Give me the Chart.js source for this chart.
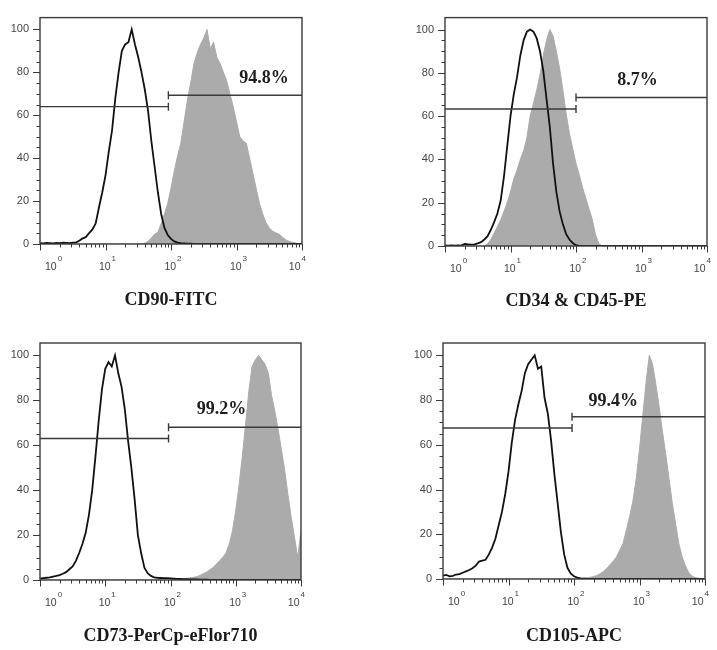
<!DOCTYPE html>
<html>
<head>
<meta charset="utf-8">
<title>Flow cytometry histograms</title>
<script src="https://cdn.jsdelivr.net/npm/chart.js@4.4.0/dist/chart.umd.min.js"></script>
<style>
  body { margin: 0; background: #fff; }
  #wrap { position: relative; width: 717px; height: 650px; }
  canvas { position: absolute; }
</style>
</head>
<body>
<div id="wrap">
  <canvas id="p0" width="358" height="325" style="left:0;top:0"></canvas>
  <canvas id="p1" width="359" height="325" style="left:358px;top:0"></canvas>
  <canvas id="p2" width="358" height="325" style="left:0;top:325px"></canvas>
  <canvas id="p3" width="359" height="325" style="left:358px;top:325px"></canvas>
</div>
<script>
// fluorescence bins, in decades (log10 of intensity)
const bins = [
  0, 0.05, 0.1, 0.15, 0.2, 0.25, 0.3, 0.35, 0.4, 0.45,
  0.5, 0.55, 0.6, 0.65, 0.7, 0.75, 0.8, 0.85, 0.9, 0.95,
  1, 1.05, 1.1, 1.15, 1.2, 1.25, 1.3, 1.35, 1.4, 1.45,
  1.5, 1.55, 1.6, 1.65, 1.7, 1.75, 1.8, 1.85, 1.9, 1.95,
  2, 2.05, 2.1, 2.15, 2.2, 2.25, 2.3, 2.35, 2.4, 2.45,
  2.5, 2.55, 2.6, 2.65, 2.7, 2.75, 2.8, 2.85, 2.9, 2.95,
  3, 3.05, 3.1, 3.15, 3.2, 3.25, 3.3, 3.35, 3.4, 3.45,
  3.5, 3.55, 3.6, 3.65, 3.7, 3.75, 3.8, 3.85, 3.9, 3.95,
  4
];

// % of max, isotype control (outline) and stained sample (grey)
const cd90Iso = [
  0.4, 0.3, 0.5, 0.4, 0.3, 0.5, 0.4, 0.6, 0.5, 0.4,
  0.6, 0.8, 1.5, 2.6, 3.2, 5.1, 6.8, 9.6, 17, 24,
  32, 43, 53, 68, 80, 90, 93, 94, 100, 93,
  87, 80, 72, 62, 48, 36, 24, 14, 7.5, 4.2,
  2.4, 1.2, 0.6, 0.4, 0.3, 0.2, 0.2, 0.1, 0.1, 0.1,
  0.1, 0.1, 0, 0, 0, 0, 0, 0, 0, 0,
  0, 0, 0, 0, 0, 0, 0, 0, 0, 0,
  0, 0, 0, 0, 0, 0, 0, 0, 0, 0,
  0
];
const cd90Pos = [
  0, 0, 0, 0, 0, 0, 0, 0, 0, 0,
  0, 0, 0, 0, 0, 0, 0, 0, 0, 0,
  0, 0, 0, 0, 0, 0, 0, 0, 0, 0,
  0, 0, 0.4, 1.2, 2.8, 4.6, 5.5, 9.5, 14, 19,
  26, 34, 41, 47, 57, 67, 75, 84, 89, 93,
  96, 100, 91, 94, 87, 84, 80, 76, 70, 64,
  57, 50, 48, 47, 40, 33, 26, 19, 14, 10,
  7.5, 6, 5.2, 4.6, 3.2, 2, 1.3, 0.8, 0.5, 0.2,
  0
];

const cd34Iso = [
  0.3, 0.2, 0.3, 0.2, 0.3, 0.2, 1.0, 0.8, 0.6, 0.8,
  1.2, 1.8, 3, 4.5, 7.5, 11, 15, 21, 32, 46,
  60, 70, 78, 88, 95, 99, 100, 99, 96, 90,
  81, 68, 55, 38, 25, 16, 10, 5.5, 3, 1.4,
  0.4, 0.1, 0, 0, 0, 0, 0, 0, 0, 0,
  0, 0, 0, 0, 0, 0, 0, 0, 0, 0,
  0, 0, 0, 0, 0, 0, 0, 0, 0, 0,
  0, 0, 0, 0, 0, 0, 0, 0, 0, 0,
  0
];
const cd34Pos = [
  0, 0, 0, 0, 0, 0, 0, 0, 0, 0,
  0, 0, 0, 1, 3, 6, 9, 12, 16, 20,
  25, 31, 35, 40, 44, 50, 60, 66, 72, 79,
  88, 95, 100, 97, 90, 82, 72, 61, 52, 45,
  38, 33, 27, 22, 17, 12, 5, 1, 0, 0,
  0, 0, 0, 0, 0, 0, 0, 0, 0, 0,
  0, 0, 0, 0, 0, 0, 0, 0, 0, 0,
  0, 0, 0, 0, 0, 0, 0, 0, 0, 0,
  0
];

const cd73Iso = [
  0.6, 0.8, 1.0, 1.2, 1.5, 1.8, 2.2, 2.8, 3.5, 4.8,
  6, 8.5, 12, 16, 21, 29, 40, 55, 71, 85,
  94, 97, 95, 100, 92, 86, 76, 62, 50, 36,
  20, 12, 5.5, 3, 1.8, 1.2, 1, 0.9, 0.8, 0.8,
  0.7, 0.6, 0.5, 0.5, 0.4, 0.4, 0.3, 0.3, 0.3, 0.2,
  0.2, 0.2, 0, 0, 0, 0, 0, 0, 0, 0,
  0, 0, 0, 0, 0, 0, 0, 0, 0, 0,
  0, 0, 0, 0, 0, 0, 0, 0, 0, 0,
  0
];
const cd73Pos = [
  0, 0, 0, 0, 0, 0, 0, 0, 0, 0,
  0, 0, 0, 0, 0, 0, 0, 0, 0, 0,
  0, 0, 0, 0, 0, 0, 0, 0, 0, 0,
  0, 0, 0, 0, 0, 0, 0, 0, 0, 0,
  0, 0.2, 0.3, 0.4, 0.5, 0.7, 1, 1.2, 1.5, 2,
  2.8, 3.5, 4.5, 5.5, 7, 8.5, 10, 12, 16, 22,
  31, 42, 55, 69, 84, 95, 98, 100, 98, 96,
  92, 82, 75, 67, 58, 49, 38, 28, 19, 10,
  22
];

const cd105Iso = [
  1.5, 1.8, 1.2, 1.4, 2, 2.2, 2.8, 3.4, 4, 4.8,
  6, 7.8, 8.2, 8.6, 11, 14, 18, 24, 30, 38,
  48, 61, 71, 78, 84, 92, 96, 98, 100, 94,
  95, 81, 74, 62, 47, 34, 21, 11, 5, 2.5,
  1.2, 0.6, 0.3, 0.2, 0.1, 0, 0, 0, 0, 0,
  0, 0, 0, 0, 0, 0, 0, 0, 0, 0,
  0, 0, 0, 0, 0, 0, 0, 0, 0, 0,
  0, 0, 0, 0, 0, 0, 0, 0, 0, 0,
  0
];
const cd105Pos = [
  0, 0, 0, 0, 0, 0, 0, 0, 0, 0,
  0, 0, 0, 0, 0, 0, 0, 0, 0, 0,
  0, 0, 0, 0, 0, 0, 0, 0, 0, 0,
  0, 0, 0, 0, 0, 0, 0, 0, 0, 0,
  0, 0, 0.3, 0.4, 0.6, 0.8, 1.1, 1.6, 2.4, 3.4,
  4.8, 6.4, 8, 10, 13, 16, 22, 28, 35, 45,
  58, 73, 88, 100, 96, 87, 77, 66, 56, 45,
  34, 25, 16, 10, 6, 3, 1.3, 0.7, 0.3, 0,
  0
];

const markers = ["CD90-FITC", "CD34 & CD45-PE", "CD73-PerCp-eFlor710", "CD105-APC"];
const positivePct = ["94.8%", "8.7%", "99.2%", "99.4%"];
// gate boundary (decades) and the heights of the negative / positive gate bars
const gateX = [1.96, 2.0, 1.97, 1.97];
const gateNegY = [64, 63.3, 63, 67.5];
const gatePosY = [69.3, 68.6, 68, 72.5];
const decades = [0, 1, 2, 3, 4];
const minorSteps = [2, 3, 4, 5, 6, 7, 8, 9];

const isoSeries = [cd90Iso, cd34Iso, cd73Iso, cd105Iso];
const posSeries = [cd90Pos, cd34Pos, cd73Pos, cd105Pos];

// canvas-local plot boxes
const panels = [
  { id: "p0", left: 40, right: 302, top: 7, bottom: 244, titleY: 300, pctX: 3.42, pctY: 77 },
  { id: "p1", left: 87, right: 349, top: 7, bottom: 246, titleY: 301, pctX: 2.94, pctY: 76.6 },
  { id: "p2", left: 40, right: 301, top: 18, bottom: 255, titleY: 311, pctX: 2.78, pctY: 75.9 },
  { id: "p3", left: 85, right: 347, top: 18, bottom: 254, titleY: 311, pctX: 2.60, pctY: 79.5 }
];

const TITLE_H = 18 * 1.2;
const AXIS_COLOR = "#3a3a3a";

const facsDecor = {
  id: "facsDecor",
  afterDraw(chart, args, opts) {
    const { ctx, chartArea: a, scales: { x, y } } = chart;
    ctx.save();
    ctx.strokeStyle = AXIS_COLOR;
    ctx.lineWidth = 1;

    // y ticks: every 5, long ones every 20
    y.ticks.forEach(t => {
      if (t.value > 100 || t.value % 5 !== 0) return;
      const py = Math.round(y.getPixelForValue(t.value)) + 0.5;
      const len = t.value % 20 === 0 ? 7 : 3.5;
      ctx.beginPath();
      ctx.moveTo(a.left - len, py);
      ctx.lineTo(a.left, py);
      ctx.stroke();
    });

    // x ticks: decades + log minor ticks
    decades.forEach(d => {
      const px = Math.round(x.getPixelForValue(d)) + 0.5;
      ctx.beginPath();
      ctx.moveTo(px, a.bottom);
      ctx.lineTo(px, a.bottom + 6.5);
      ctx.stroke();
      if (d === 4) return;
      minorSteps.forEach(k => {
        const mx = Math.round(x.getPixelForValue(d + Math.log10(k))) + 0.5;
        ctx.beginPath();
        ctx.moveTo(mx, a.bottom);
        ctx.lineTo(mx, a.bottom + 3.5);
        ctx.stroke();
      });
    });

    // frame
    ctx.lineWidth = 1.4;
    ctx.strokeRect(a.left, a.top, a.right - a.left, a.bottom - a.top);

    // decade labels 10^n
    ctx.fillStyle = "#444";
    ctx.textBaseline = "alphabetic";
    ctx.textAlign = "left";
    decades.forEach(d => {
      ctx.font = '10.5px "Liberation Sans"';
      const wBase = ctx.measureText("10").width;
      ctx.font = '8px "Liberation Sans"';
      const wExp = ctx.measureText(String(d)).width;
      const w = wBase + 1 + wExp;
      let left = x.getPixelForValue(d) + 2 - w / 2;
      left = Math.max(left, a.left + 5);
      left = Math.min(left, a.right + 4 - w);
      ctx.font = '10.5px "Liberation Sans"';
      ctx.fillText("10", left, a.bottom + 25.5);
      ctx.font = '8px "Liberation Sans"';
      ctx.fillText(String(d), left + wBase + 1, a.bottom + 16.5);
    });

    // positive fraction
    ctx.fillStyle = "#1e1e1e";
    ctx.font = 'bold 18px "Liberation Serif"';
    ctx.textAlign = "center";
    ctx.textBaseline = "middle";
    ctx.fillText(opts.pct, x.getPixelForValue(opts.px), y.getPixelForValue(opts.py));
    ctx.restore();
  }
};

function toPoints(vals) {
  return bins.map((b, i) => ({ x: b, y: vals[i] }));
}

panels.forEach((p, i) => {
  const canvas = document.getElementById(p.id);
  const W = canvas.width;
  const H = canvas.height;
  const padBottom = H - p.titleY - TITLE_H / 2;
  const xAxisH = H - padBottom - TITLE_H - p.bottom;

  new Chart(canvas, {
    type: "line",
    data: {
      datasets: [
        {
          data: [{ x: 0, y: gateNegY[i] }, { x: gateX[i], y: gateNegY[i] }],
          borderColor: AXIS_COLOR,
          borderWidth: 1.4,
          pointStyle: "line",
          rotation: 90,
          pointRadius: [0, 4],
          pointBorderWidth: 1.4,
          pointBorderColor: AXIS_COLOR,
          fill: false
        },
        {
          data: [{ x: gateX[i], y: gatePosY[i] }, { x: 4, y: gatePosY[i] }],
          borderColor: AXIS_COLOR,
          borderWidth: 1.4,
          pointStyle: "line",
          rotation: 90,
          pointRadius: [4, 0],
          pointBorderWidth: 1.4,
          pointBorderColor: AXIS_COLOR,
          fill: false
        },
        {
          label: "Isotype",
          data: toPoints(isoSeries[i]),
          borderColor: "#111",
          borderWidth: 1.8,
          pointRadius: 0,
          tension: 0,
          fill: false
        },
        {
          label: markers[i],
          data: toPoints(posSeries[i]),
          borderColor: "#ababab",
          borderWidth: 1,
          backgroundColor: "#ababab",
          pointRadius: 0,
          tension: 0,
          fill: "origin"
        }
      ]
    },
    options: {
      responsive: false,
      animation: false,
      devicePixelRatio: 1,
      layout: {
        padding: { left: 0, top: p.top, right: W - p.right, bottom: padBottom }
      },
      scales: {
        x: {
          type: "linear",
          min: 0,
          max: 4,
          grid: { display: false, drawTicks: false },
          border: { display: false },
          ticks: { display: false },
          afterFit: scale => { scale.height = xAxisH; }
        },
        y: {
          min: 0,
          max: 105.5,
          grid: { display: false, drawTicks: false },
          border: { display: false },
          ticks: {
            stepSize: 5,
            autoSkip: false,
            padding: 11,
            color: "#444",
            font: { family: "Liberation Sans", size: 11 },
            callback: v => (v % 20 === 0 && v <= 100 ? String(v) : "")
          },
          afterFit: scale => { scale.width = p.left; }
        }
      },
      plugins: {
        legend: { display: false },
        tooltip: { enabled: false },
        title: {
          display: true,
          text: markers[i],
          position: "bottom",
          fullSize: false,
          color: "#1a1a1a",
          font: { family: "Liberation Serif", size: 18, weight: "bold", lineHeight: 1.2 },
          padding: { top: 0, bottom: 0 }
        },
        facsDecor: { pct: positivePct[i], px: p.pctX, py: p.pctY }
      }
    },
    plugins: [facsDecor]
  });
});
</script>
</body>
</html>
